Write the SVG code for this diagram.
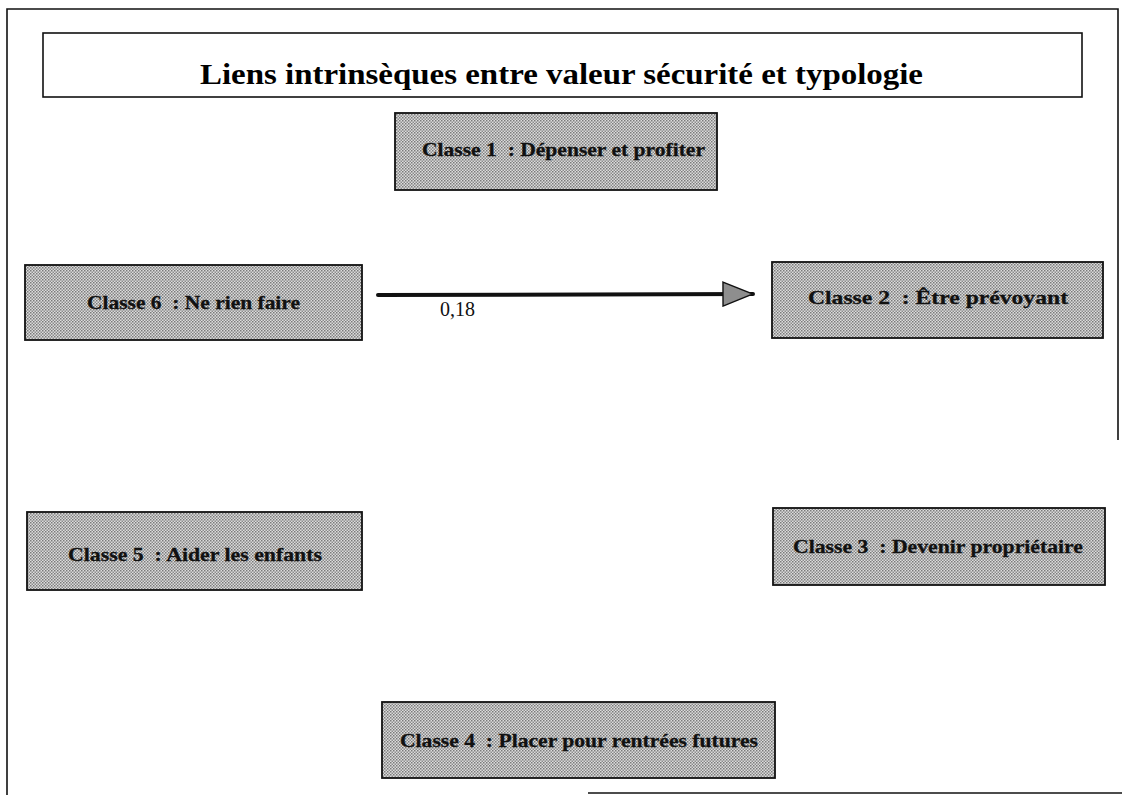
<svg xmlns="http://www.w3.org/2000/svg" width="1122" height="795" viewBox="0 0 1122 795">
  <defs>
    <!-- halftone screen used for the class boxes -->
    <pattern id="screen" width="3" height="3" patternUnits="userSpaceOnUse">
      <rect width="3" height="3" fill="#dcdcdc"/>
      <rect x="0" y="0" width="1.5" height="1.5" fill="#7a7a7a"/>
      <rect x="1.5" y="1.5" width="1.5" height="1.5" fill="#8c8c8c"/>
    </pattern>
    <marker id="head" viewBox="0 0 32 26" refX="31" refY="13" markerWidth="32" markerHeight="26" markerUnits="userSpaceOnUse" orient="auto">
      <path d="M1,1 L31,13 L1,25 Z" fill="#8e8e8e" stroke="#111" stroke-width="1.4"/>
    </marker>
  </defs>
  <style>
    .frame { fill: none; stroke: #111; stroke-width: 1.6; }
    .box { fill: url(#screen); stroke: #111; stroke-width: 1.8; }
    .label { font-family: "Liberation Serif", "Times New Roman", serif; font-weight: bold; font-size: 19px; fill: #111; stroke: #111; stroke-width: 0.3; white-space: pre; }
    .title { font-family: "Liberation Serif", "Times New Roman", serif; font-weight: bold; font-size: 30px; fill: #000; }
    .num { font-family: "Liberation Serif", "Times New Roman", serif; font-size: 20px; fill: #111; }
    .link { stroke: #111; stroke-width: 4; fill: none; stroke-linecap: round; }
  </style>

  <rect width="1122" height="795" fill="#ffffff"/>

  <!-- page border -->
  <g id="border">
    <polyline class="frame" points="7,795 7,9 1118,9 1118,440"/>
    <line class="frame" x1="588" y1="793" x2="1122" y2="793"/>
  </g>

  <!-- heading -->
  <g id="title">
    <rect class="frame" x="43" y="33" width="1039" height="64"/>
    <text class="title" x="200" y="84" textLength="723" lengthAdjust="spacingAndGlyphs">Liens intrinsèques entre valeur sécurité et typologie</text>
  </g>

  <g id="classe1">
    <rect class="box" x="395" y="113" width="322" height="77"/>
    <text class="label" x="422" y="156" textLength="283" lengthAdjust="spacingAndGlyphs" xml:space="preserve">Classe 1  : Dépenser et profiter</text>
  </g>

  <g id="classe2">
    <rect class="box" x="772" y="262" width="331" height="76"/>
    <text class="label" x="808" y="304" textLength="260" lengthAdjust="spacingAndGlyphs" xml:space="preserve">Classe 2  : Être prévoyant</text>
  </g>

  <g id="classe3">
    <rect class="box" x="773" y="508" width="332" height="77"/>
    <text class="label" x="793" y="553" textLength="290" lengthAdjust="spacingAndGlyphs" xml:space="preserve">Classe 3  : Devenir propriétaire</text>
  </g>

  <g id="classe4">
    <rect class="box" x="382" y="702" width="393" height="76"/>
    <text class="label" x="400" y="747" textLength="358" lengthAdjust="spacingAndGlyphs" xml:space="preserve">Classe 4  : Placer pour rentrées futures</text>
  </g>

  <g id="classe5">
    <rect class="box" x="27" y="512" width="335" height="78"/>
    <text class="label" x="68" y="561" textLength="254" lengthAdjust="spacingAndGlyphs" xml:space="preserve">Classe 5  : Aider les enfants</text>
  </g>

  <g id="classe6">
    <rect class="box" x="25" y="265" width="337" height="75"/>
    <text class="label" x="87" y="309" textLength="213" lengthAdjust="spacingAndGlyphs" xml:space="preserve">Classe 6  : Ne rien faire</text>
  </g>

  <!-- links -->
  <g id="connectors">
    <line class="link" x1="378" y1="295" x2="753" y2="294" marker-end="url(#head)"/>
    <text class="num" x="440" y="316">0,18</text>
  </g>
</svg>
